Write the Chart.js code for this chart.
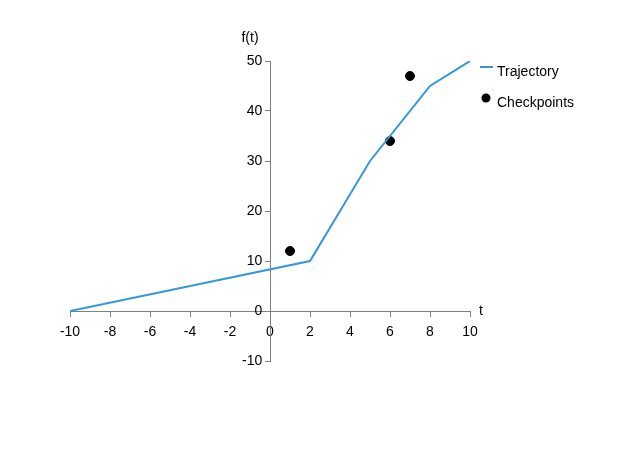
<!DOCTYPE html>
<html>
<head>
<meta charset="utf-8">
<script src="https://cdn.jsdelivr.net/npm/chart.js@4"></script>
<style>
  html, body { margin: 0; padding: 0; background: #fff; }
  #wrap { width: 624px; height: 450px; }
</style>
</head>
<body>
<div id="wrap"><canvas id="chart" width="624" height="450"></canvas></div>
<script>
const trajT = [-10, 2, 5, 8, 10];
const trajF = [0, 10, 30, 45, 50];
const checkT = [1, 6, 7];
const checkF = [12, 34, 47];
const xTicks = [-10, -8, -6, -4, -2, 0, 2, 4, 6, 8, 10];
const yTicks = [-10, 0, 10, 20, 30, 40, 50];

const lineColor = 'rgb(52, 152, 219)';
const axisColor = '#808080';
const font = 'Liberation Sans, Arial, sans-serif';

// axis titles and the legend are drawn by hand
const extras = {
    id: 'extras',
    afterDraw(chart) {
        const c = chart.ctx;
        const xs = chart.scales.x, ys = chart.scales.y;
        c.save();
        c.fillStyle = '#000';
        c.font = '14px ' + font;
        c.textBaseline = 'middle';
        c.textAlign = 'center';
        c.fillText('f(t)', xs.getPixelForValue(0) - 20, ys.top - 23);
        c.textAlign = 'left';
        c.fillText('t', xs.right + 9, ys.getPixelForValue(0));

        c.strokeStyle = lineColor;
        c.lineWidth = 2;
        c.beginPath();
        c.moveTo(480, 67);
        c.lineTo(493, 67);
        c.stroke();
        c.fillText('Trajectory', 497, 72);

        c.fillStyle = '#000';
        c.beginPath();
        c.arc(486, 98, 4.5, 0, Math.PI * 2);
        c.fill();
        c.fillText('Checkpoints', 497, 103);
        c.restore();
    }
};

new Chart(document.getElementById('chart'), {
    type: 'scatter',
    data: {
        datasets: [
            {
                label: 'Trajectory',
                data: trajT.map((t, i) => ({ x: t, y: trajF[i] })),
                showLine: true,
                borderColor: lineColor,
                backgroundColor: lineColor,
                borderWidth: 2,
                pointRadius: 0,
                tension: 0
            },
            {
                label: 'Checkpoints',
                data: checkT.map((t, i) => ({ x: t, y: checkF[i] })),
                backgroundColor: '#000',
                borderColor: '#000',
                pointRadius: 4.5,
                pointHoverRadius: 4.5
            }
        ]
    },
    options: {
        responsive: false,
        animation: false,
        layout: { padding: { left: 70, right: 154, top: 61, bottom: 89 } },
        plugins: {
            legend: { display: false },
            tooltip: { enabled: false }
        },
        scales: {
            x: {
                type: 'linear',
                position: { y: 0 },
                min: -10,
                max: 10,
                afterBuildTicks: s => { s.ticks = xTicks.map(v => ({ value: v })); },
                ticks: { color: '#000', font: { family: font, size: 14 }, padding: 8, maxRotation: 0 },
                grid: { drawOnChartArea: false, color: axisColor, tickLength: 5 },
                border: { color: axisColor }
            },
            y: {
                type: 'linear',
                position: { x: 0 },
                min: -10,
                max: 50,
                afterBuildTicks: s => { s.ticks = yTicks.map(v => ({ value: v })); },
                // centred y axis ignores tick padding, so pad the label text
                ticks: { color: '#000', font: { family: font, size: 14 }, callback: v => v + '  ' },
                grid: { drawOnChartArea: false, color: axisColor, tickLength: 5 },
                border: { color: axisColor }
            }
        }
    },
    plugins: [extras]
});
</script>
</body>
</html>
